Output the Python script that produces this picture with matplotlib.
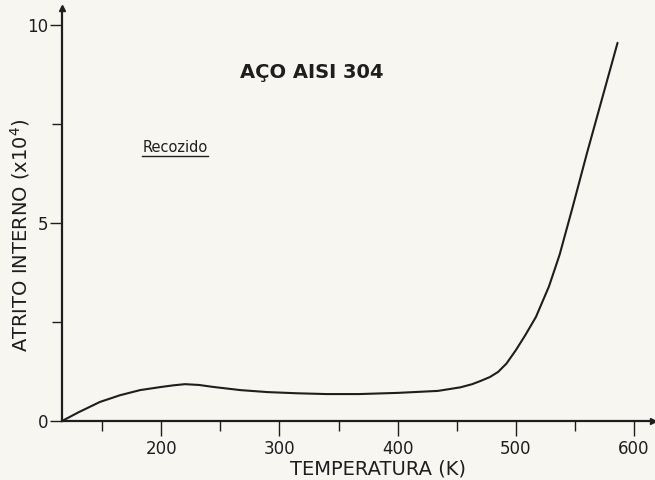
import numpy as np
import matplotlib
matplotlib.use("Agg")
import matplotlib.pyplot as plt

# data
temperatura = [116, 130, 148, 165, 182, 200, 210, 220, 232, 244, 267, 290, 315, 340, 367,
               400, 434, 453, 463, 470, 478, 485, 492, 500, 508, 517, 528, 537, 548,
               560, 573, 586]
atrito = [0.0, 0.22, 0.48, 0.65, 0.78, 0.86, 0.90, 0.93, 0.91, 0.86, 0.78, 0.73, 0.70,
          0.68, 0.68, 0.71, 0.76, 0.85, 0.93, 1.01, 1.11, 1.24, 1.45, 1.79, 2.17, 2.63,
          3.40, 4.20, 5.40, 6.75, 8.15, 9.55]

x_major = [200, 300, 400, 500, 600]
x_minor = [150, 250, 350, 450, 550]
y_major = [0, 5, 10]
y_minor = [2.5, 7.5]

INK = '#1e1e1e'
PAPER = '#f7f6f0'

plt.rcParams['font.family'] = ['DejaVu Sans']

fig = plt.figure(figsize=(6.55, 4.8), dpi=100, facecolor=PAPER)
ax = fig.add_axes([62 / 655, 59 / 480, 591 / 655, 413 / 480])
ax.set_facecolor(PAPER)

ax.plot(temperatura, atrito, color=INK, lw=1.5, solid_capstyle='round',
        solid_joinstyle='round')

ax.set_xlim(116, 616)
ax.set_ylim(0, 10.43)

ax.spines['top'].set_visible(False)
ax.spines['right'].set_visible(False)
for s in ['left', 'bottom']:
    ax.spines[s].set_color(INK)
    ax.spines[s].set_linewidth(1.6)

# arrow heads at the axis ends
ax.plot(1, 0, '>', color=INK, ms=5, transform=ax.transAxes, clip_on=False)
ax.plot(0, 1, '^', color=INK, ms=5, transform=ax.transAxes, clip_on=False)

ax.set_xticks(x_major)
ax.set_xticks(x_minor, minor=True)
ax.set_yticks(y_major)
ax.set_yticks(y_minor, minor=True)
ax.set_xticklabels([str(v) for v in x_major])
ax.set_yticklabels(['0', '5', '10'])
ax.tick_params(axis='x', which='major', length=11, width=1.0, colors=INK,
               labelsize=12, pad=3)
ax.tick_params(axis='y', which='major', length=9, width=1.0, colors=INK,
               labelsize=12, pad=1)
ax.tick_params(axis='both', which='minor', length=7, width=1.0, colors=INK)

ax.set_xlabel('TEMPERATURA (K)', fontsize=14, color=INK)
ax.xaxis.set_label_coords(0.535, -0.093)
ax.set_ylabel('ATRITO INTERNO (x10$^4$)', fontsize=14, color=INK)
ax.yaxis.set_label_coords(-0.05, 0.45)

fig.text(312 / 655, 1 - 72 / 480, 'AÇO AISI 304', ha='center', va='center',
         fontsize=14, color=INK, fontweight='semibold')
fig.text(175 / 655, 1 - 148 / 480, 'Recozido', ha='center', va='center',
         fontsize=10.5, color=INK)
fig.add_artist(plt.Line2D([142 / 655, 208 / 655], [1 - 156 / 480, 1 - 156 / 480],
                          color=INK, lw=1.0))

fig.savefig('out.png', dpi=100, facecolor=PAPER)
